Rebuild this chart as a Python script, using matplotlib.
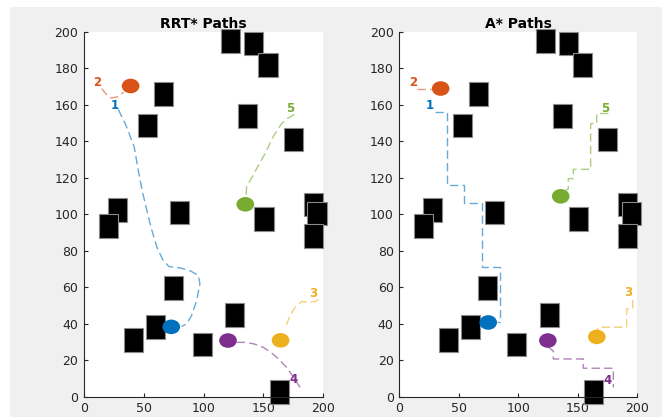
import matplotlib
matplotlib.use("Agg")
import matplotlib.pyplot as plt
from matplotlib.patches import Rectangle, Ellipse

plt.rcParams['font.family'] = ['DejaVu Sans']

# ---------------- data ----------------
obs_x = [122.6, 142, 154, 66.7, 53.5, 137, 175, 28.3, 20.4, 80, 150.6, 192.4, 195, 192,
         74.6, 59.7, 41.7, 99, 126, 163.5]
obs_y = [195, 193.7, 182, 166, 148.7, 154, 141, 102.4, 93.5, 101, 97.6, 105.4, 100.4, 88,
         59.8, 38.2, 31, 28.6, 44.8, 2.5]
obs_w = 16
obs_h = 13

robot_ids = ['1', '2', '3', '4', '5']
robot_colors = ['#0072BD', '#D95319', '#EDB120', '#7E2F8E', '#77AC30']

# RRT* start positions and paths
rrt_start_x = [73, 39, 164.5, 120.5, 135]
rrt_start_y = [38.3, 170.4, 30.9, 30.8, 105.5]
rrt_paths = {
    '1': ([28.7, 35, 42, 46, 49, 52, 56, 61, 66, 71, 80, 89, 95.7, 97, 94.3, 90, 86, 81.7],
          [157.5, 149, 137, 122, 112, 104, 93, 82, 75, 71.4, 70.7, 69, 66.5, 62, 52.7, 44.5, 40, 38.5]),
    '2': ([14.8, 20.3, 23, 29, 33],
          [169, 164.5, 163.8, 164.6, 167]),
    '3': ([196.1, 193, 186, 182.2, 176.6, 172.4, 168.2],
          [53.3, 52, 52, 52.2, 49, 44.5, 37.2]),
    '4': ([127.8, 134, 142, 150, 156, 161.3, 169.6, 175, 180.8],
          [29.8, 29.8, 29, 27.1, 24.5, 21.6, 16.1, 11, 5.1]),
    '5': ([176, 170, 165.4, 159, 151.5, 144.5, 136.1, 135.6],
          [154.8, 152.5, 149.8, 143.4, 133.3, 125.1, 115, 109.5]),
}
rrt_label_x = [26, 11.4, 191.9, 175.7, 172.4]
rrt_label_y = [159.5, 172.5, 56.8, 9.7, 158]

# A* start positions and paths
astar_start_x = [74.8, 34.8, 166.2, 125, 135.8]
astar_start_y = [40.7, 169, 32.8, 30.8, 109.9]
astar_paths = {
    '1': ([30, 39.9, 39.9, 54.4, 54.4, 69.8, 69.8, 85, 85, 82],
          [156, 156, 116, 116, 106, 106, 71, 71, 41, 41]),
    '2': ([14.6, 27],
          [169, 169]),
    '3': ([196.4, 196.4, 191.3, 191.3, 167.5, 166.5],
          [53, 48.2, 48.2, 38.1, 38.1, 36.5]),
    '4': ([125, 129.6, 129.6, 154.8, 154.8, 180.1, 180.1],
          [27.5, 25, 20.7, 20.7, 15.6, 15.6, 5.1]),
    '5': ([175.9, 166.1, 166.1, 161, 161, 146.4, 146.4, 142.2, 142.2, 140],
          [155.3, 155.3, 149.8, 149.8, 124.7, 124.7, 119.6, 119.6, 114, 113]),
}
astar_label_x = [25.8, 11.3, 192.5, 175.5, 173]
astar_label_y = [159.9, 172.1, 56.9, 9, 158.3]

titles = ['RRT* Paths', 'A* Paths']
xticks = [0, 50, 100, 150, 200]
yticks = [0, 20, 40, 60, 80, 100, 120, 140, 160, 180, 200]

# ---------------- figure ----------------
W, H = 662, 417
fig = plt.figure(figsize=(W / 100, H / 100), dpi=100, facecolor='white')
fig.patches.append(Rectangle((10 / W, 0), 1 - 10 / W, 1 - 7 / H, transform=fig.transFigure,
                             facecolor='#f0f0f0', edgecolor='none', zorder=-10))

ax_l = fig.add_axes([84 / W, 20.3 / H, 239 / W, 364.7 / H])
ax_r = fig.add_axes([399.3 / W, 20.3 / H, 237.7 / W, 364.7 / H])

panels = [
    (ax_l, rrt_start_x, rrt_start_y, rrt_paths, rrt_label_x, rrt_label_y),
    (ax_r, astar_start_x, astar_start_y, astar_paths, astar_label_x, astar_label_y),
]

axis_color = '#262626'
for (ax, sx, sy, paths, lx, ly), title in zip(panels, titles):
    ax.set_facecolor('white')
    ax.set_xlim(0, 200)
    ax.set_ylim(0, 200)
    for s in ['top', 'right']:
        ax.spines[s].set_visible(False)
    for s in ['left', 'bottom']:
        ax.spines[s].set_color(axis_color)
        ax.spines[s].set_linewidth(0.8)
    ax.set_xticks(xticks)
    ax.set_yticks(yticks)
    ax.tick_params(direction='in', length=3, width=0.8, colors=axis_color,
                   labelsize=9, labelcolor=axis_color, pad=4)
    ax.set_title(title, fontsize=10, fontweight='bold', color='black', pad=3)

    # obstacles
    for ox, oy in zip(obs_x, obs_y):
        ax.add_patch(Rectangle((ox - obs_w / 2, oy - obs_h / 2), obs_w, obs_h,
                               facecolor='black', edgecolor='#8a8a8a', linewidth=0.8,
                               clip_on=False, zorder=2))

    # paths, starts and labels
    for i, rid in enumerate(robot_ids):
        c = robot_colors[i]
        px, py = paths[rid]
        ax.plot(px, py, color=c, alpha=0.6, linewidth=1.0, linestyle=(0, (6, 3)),
                zorder=3, clip_on=False)
        ax.add_patch(Ellipse((sx[i], sy[i]), 14.8, 8.0, facecolor=c,
                             edgecolor='none', zorder=4))
        ax.text(lx[i], ly[i], rid, color=c, fontsize=8.5, fontweight='bold',
                ha='center', va='center', zorder=5)

fig.savefig('out.png', dpi=100, facecolor=fig.get_facecolor())
